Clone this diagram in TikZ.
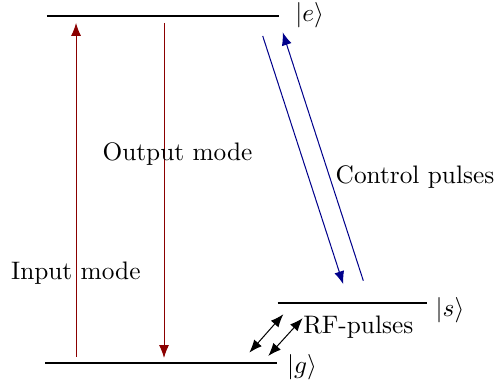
\documentclass[tikz,border=0pt]{standalone}
\usepackage{amsmath,amssymb}
\usepackage{xcolor}
\usepackage{tikz}
\usetikzlibrary{arrows.meta, positioning, calc}
\definecolor{modered}{HTML}{8B0000}
\definecolor{ctrlblue}{HTML}{00008B}

\begin{document}
\begin{tikzpicture}[
  font=\normalsize,
  level/.style={thick, black},
  ket/.style={inner sep=0pt},
  lbl/.style={inner sep=0pt, align=center},
  mode/.style={-{Latex[length=1.8mm, width=1.4mm]}, modered},
  ctrl/.style={-{Latex[length=1.8mm, width=1.4mm]}, ctrlblue},
  rf/.style={{Latex[length=1.8mm, width=1.4mm]}-{Latex[length=1.8mm, width=1.4mm]}, black}
]
\useasboundingbox (0,0) rectangle (6.889,5.347);

% Energy levels
\coordinate (eL) at (0.65,5.125);
\coordinate (eR) at (3.879,5.125);
\coordinate (gL) at (0.63,0.306);
\coordinate (gR) at (3.843,0.306);
\coordinate (sL) at (3.857,1.139);
\coordinate (sR) at (5.931,1.139);
\draw[level] (eL) -- (eR);
\draw[level] (gL) -- (gR);
\draw[level] (sL) -- (sR);

\node[ket] (ke) at (4.301,5.132) {$|e\rangle$};
\node[ket] (kg) at (4.194,0.25) {$|g\rangle$};
\node[ket] (ks) at (6.25,1.042) {$|s\rangle$};

% Optical modes
\coordinate (inS) at (1.056,0.389);
\coordinate (inE) at (1.056,5.028);
\coordinate (outS) at (2.278,5.028);
\coordinate (outE) at (2.278,0.375);
\draw[mode] (inS) -- (inE);
\draw[mode] (outS) -- (outE);
\node[lbl] (inlbl) at (1.053,1.556) {Input mode};
\node[lbl] (outlbl) at (2.465,3.213) {Output mode};

% Control pulses
\coordinate (cdS) at (3.649,4.847);
\coordinate (cdE) at (4.768,1.399);
\coordinate (cuS) at (5.046,1.449);
\coordinate (cuE) at (3.926,4.899);
\draw[ctrl] (cdS) -- (cdE);
\draw[ctrl] (cuS) -- (cuE);
\node[lbl] (ctrllbl) at (5.764,2.889) {Control pulses};

% RF pulses between g and s
\coordinate (rfaS) at (3.463,0.449);
\coordinate (rfaE) at (3.935,0.982);
\coordinate (rfbS) at (3.726,0.403);
\coordinate (rfbE) at (4.204,0.928);
\draw[rf] (rfaS) -- (rfaE);
\draw[rf] (rfbS) -- (rfbE);
\node[lbl] (rflbl) at (4.976,0.806) {RF-pulses};

\end{tikzpicture}
\end{document}
